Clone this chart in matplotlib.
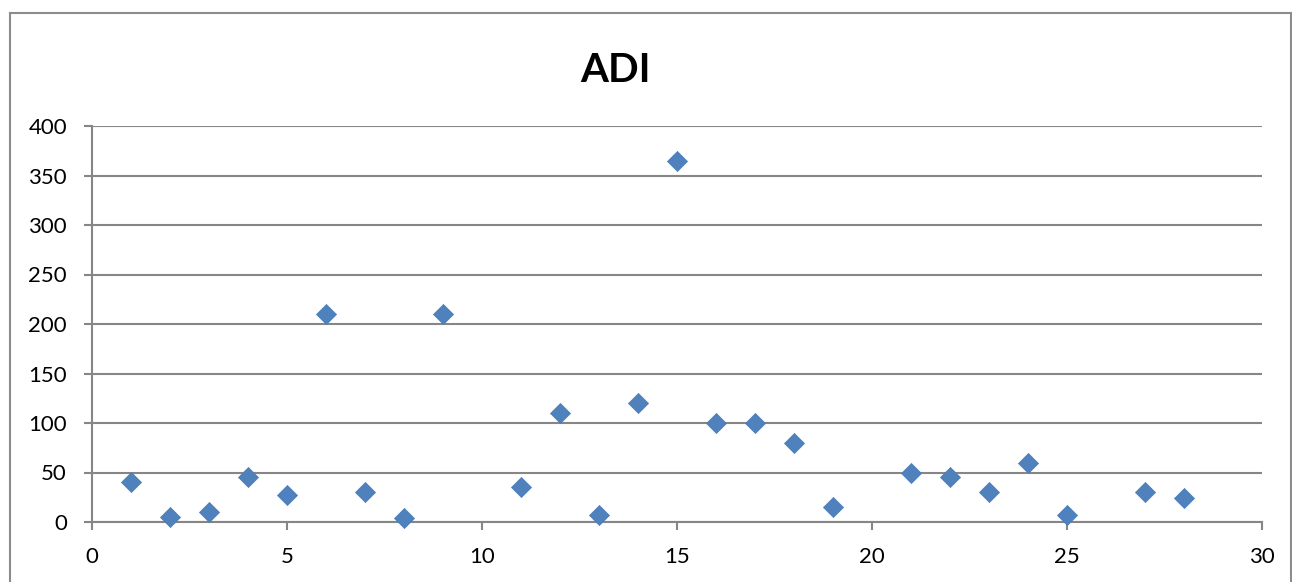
import matplotlib
matplotlib.use("Agg")
import matplotlib.pyplot as plt
from matplotlib.lines import Line2D

# ADI values by index
index = [1, 2, 3, 4, 5, 6, 7, 8, 9, 11, 12, 13, 14, 15, 16, 17, 18, 19, 21, 22, 23, 24, 25, 27, 28]
adi = [40, 5, 10, 45, 27, 210, 30, 4, 210, 35, 110, 7, 120, 365, 100, 100, 80, 15, 50, 45, 30, 60, 7, 30, 24]
x_ticks = [0, 5, 10, 15, 20, 25, 30]
y_ticks = [0, 50, 100, 150, 200, 250, 300, 350, 400]

W, H = 1292, 582
fig = plt.figure(figsize=(W / 100, H / 100), dpi=100)
plt.rcParams['font.family'] = ['Lato', 'DejaVu Sans']

grid_c = '#868686'
ax = fig.add_axes([92 / W, 1 - 522 / H, (1262 - 92) / W, (522 - 126) / H])
ax.scatter(index, adi, marker='D', s=105, color='#4F81BD', edgecolors='#4A7EBB',
           linewidths=0.5, zorder=3, clip_on=False)

ax.set_xlim(0, 30)
ax.set_ylim(0, 400)
ax.set_xticks(x_ticks)
ax.set_yticks(y_ticks)
ax.yaxis.grid(True, color=grid_c, linewidth=1.5)
ax.set_axisbelow(True)
for s in ('top', 'right'):
    ax.spines[s].set_visible(False)
for s in ('left', 'bottom'):
    ax.spines[s].set_color(grid_c)
    ax.spines[s].set_linewidth(1.5)
ax.tick_params(axis='both', direction='out', length=6, width=1.5, color=grid_c,
               labelsize=16, labelcolor='black')
ax.tick_params(axis='y', pad=12)
ax.tick_params(axis='x', pad=12)

fig.text(615 / W, 1 - 70 / H, 'ADI', ha='center', va='center', fontsize=29,
         fontweight='bold')

# Chart area frame
frame_c = '#8C8C8C'
fig.add_artist(Line2D([9.5 / W, 9.5 / W], [0, 1 - 13 / H], transform=fig.transFigure,
                      color=frame_c, linewidth=1.5))
fig.add_artist(Line2D([9.5 / W, 1290.5 / W], [1 - 13 / H, 1 - 13 / H], transform=fig.transFigure,
                      color=frame_c, linewidth=1.5))
fig.add_artist(Line2D([1290.5 / W, 1290.5 / W], [0, 1 - 13 / H], transform=fig.transFigure,
                      color=frame_c, linewidth=1.5))

fig.savefig('out.png', dpi=100)
